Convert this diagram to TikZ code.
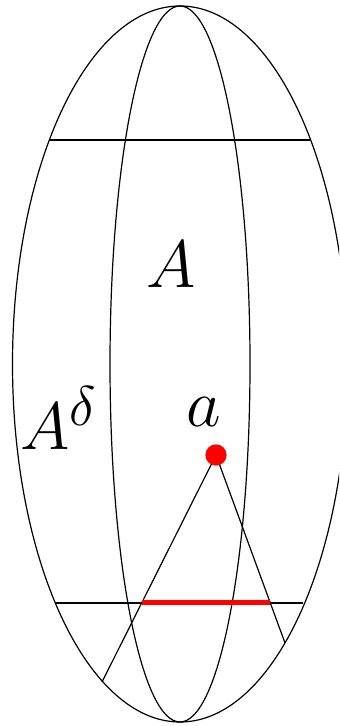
\documentclass[tikz,border=0pt]{standalone}
\usepackage{amssymb,amsmath}
\usepackage{xcolor}
\usepackage{tikz}
\usetikzlibrary{calc,intersections}

\begin{document}
\begin{tikzpicture}[x=0.5pt,y=0.5pt,line width=0.6pt,
    lbl/.style={font=\Huge,scale=1.35,inner sep=0pt}]
    \clip (0,0) rectangle (339,726);
    \coordinate (O) at (180,362);
    \draw (O) ellipse [x radius=83.75pt, y radius=179pt];
    \draw (O) ellipse [x radius=35pt, y radius=179pt];
    % horizontal cuts
    \coordinate (t1) at (49,586);  \coordinate (t2) at (310,586);
    \coordinate (b1) at (55,123);  \coordinate (b2) at (303,123);
    \draw (t1) -- (t2);
    \draw[name path=cut] (b1) -- (b2);
    % the point and its cone
    \coordinate (a) at (216,271);
    \coordinate (p) at (102,44);
    \coordinate (q) at (285,83);
    \draw[name path=left] (a) -- (p);
    \draw[name path=right] (a) -- (q);
    \path[name intersections={of=cut and left,by=r1}];
    \path[name intersections={of=cut and right,by=r2}];
    \draw[color=red, line width=2.5pt] (r1) -- (r2);
    \filldraw[color=red] (a) circle (5pt);
    \node[lbl] (A) at (171,461.5) {$A$};
    \node[lbl,anchor=base] (Ad) at (59,276) {$A^\delta$};
    \node[lbl,anchor=base] (la) at (204,299) {$a$};
\end{tikzpicture}
\end{document}
